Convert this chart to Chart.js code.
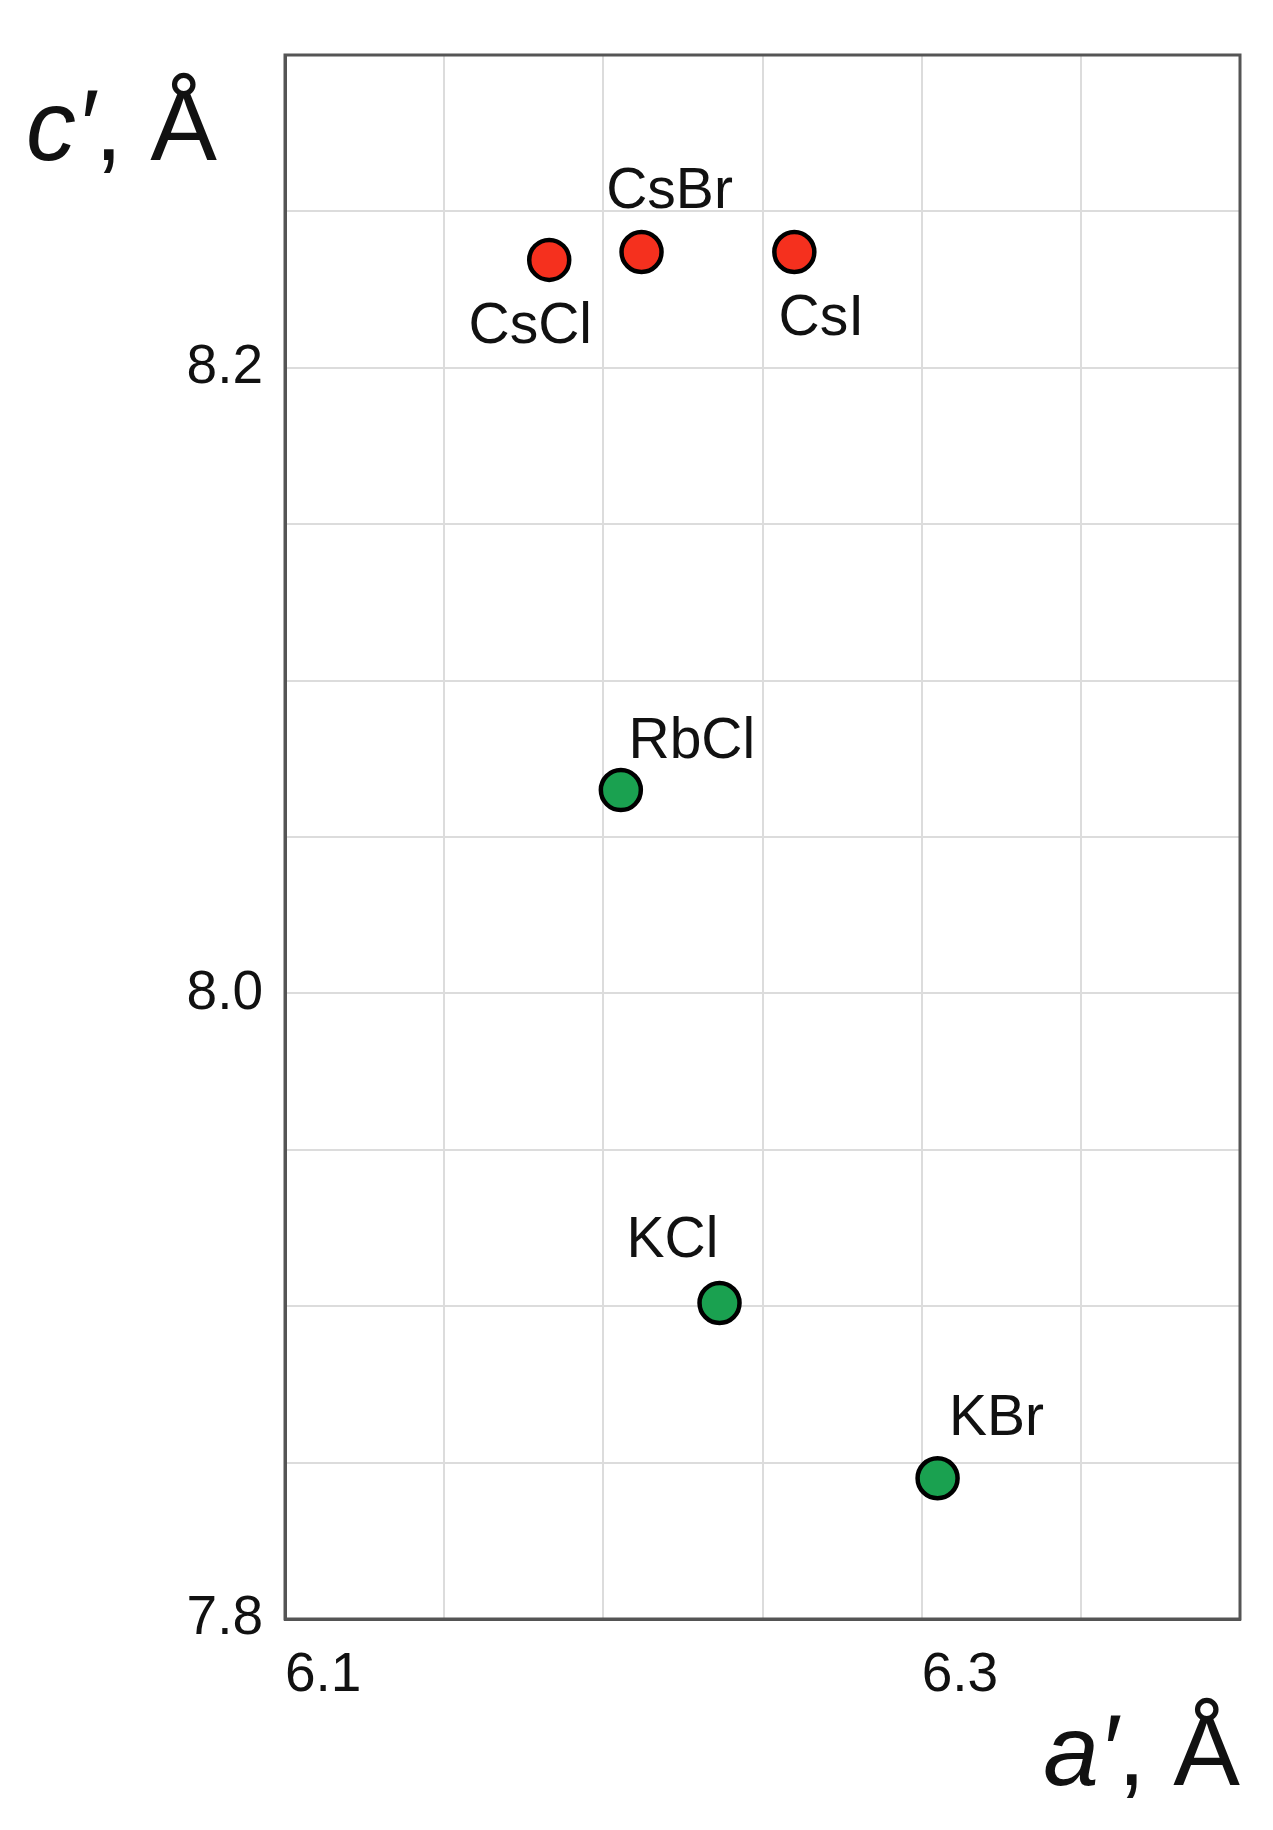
<!DOCTYPE html>
<html><head><meta charset="utf-8">
<script src="https://cdn.jsdelivr.net/npm/chart.js@4/dist/chart.umd.min.js"></script>
<style>html,body{margin:0;padding:0;background:#fff}#w{width:1273px;height:1830px}</style>
</head><body><div id="w"><canvas id="c"></canvas></div>
<script>
const compounds = ["CsCl","CsBr","CsI","RbCl","KCl","KBr"];
const aValues = [6.183,6.212,6.260,6.2055,6.2365,6.305];
const cValues = [8.2345,8.237,8.237,8.065,7.901,7.845];
const groupColors = ["#f5301e","#f5301e","#f5301e","#1aa150","#1aa150","#1aa150"];
const xTickLabels = [6.1,6.3];
const yTickLabels = [7.8,8.0,8.2];
const labelOffsets = [[-19,67],[28,-60],[27,67],[71,-48],[-47,-62],[59,-59]];
const FONT = '"Liberation Sans", Arial, sans-serif';

const annot = {
  id:'annot',
  afterDatasetsDraw(chart){
    const ctx = chart.ctx, meta = chart.getDatasetMeta(0);
    ctx.save();
    ctx.fillStyle='#111'; ctx.font='57px '+FONT; ctx.textAlign='center'; ctx.textBaseline='middle';
    meta.data.forEach((p,i)=>{ ctx.fillText(compounds[i], p.x+labelOffsets[i][0], p.y+labelOffsets[i][1]); });
    ctx.textBaseline='alphabetic';
    ctx.textAlign='left';
    ctx.font='italic 100px '+FONT; ctx.fillText('c′', 26, 160);
    let w = ctx.measureText('c′').width;
    ctx.font='100px '+FONT; ctx.fillText(', Å', 26+w, 160);
    ctx.textAlign='right';
    let w2 = ctx.measureText(', Å').width;
    ctx.fillText(', Å', 1240, 1785);
    ctx.font='italic 100px '+FONT; ctx.fillText('a′', 1240-w2, 1785);
    ctx.restore();
  }
};

new Chart(document.getElementById('c'),{
  type:'scatter',
  data:{datasets:[{data:aValues.map((a,i)=>({x:a,y:cValues[i]})),
    backgroundColor:groupColors, borderColor:'#000', borderWidth:4.5, pointRadius:20, pointHoverRadius:20}]},
  options:{
    responsive:true, maintainAspectRatio:false, animation:false,
    layout:{padding:{top:51,right:33,left:0,bottom:0}},
    plugins:{legend:{display:false},tooltip:{enabled:false}},
    scales:{
      x:{type:'linear',min:6.1,max:6.4,
        afterFit(s){s.height=211;},
        grid:{color:'#dcdcdc',lineWidth:2,drawTicks:false},
        border:{color:'#555',width:3},
        ticks:{stepSize:0.05,align:'start',padding:24,color:'#111',font:{size:55,family:FONT},
          callback(v){const m=xTickLabels.find(t=>Math.abs(t-v)<1e-6);return m!==undefined?m.toFixed(1):'';}}},
      y:{type:'linear',min:7.8,max:8.3,
        afterFit(s){s.width=285;},
        grid:{color:'#dcdcdc',lineWidth:2,drawTicks:false},
        border:{color:'#555',width:3},
        ticks:{stepSize:0.05,padding:22,color:'#111',font:{size:55,family:FONT},
          callback(v){const m=yTickLabels.find(t=>Math.abs(t-v)<1e-6);return m!==undefined?m.toFixed(1):'';}}}
    }
  },
  plugins:[annot,{id:'frame',afterDraw(chart){const a=chart.chartArea,ctx=chart.ctx;ctx.save();ctx.strokeStyle='#555';ctx.lineWidth=3;ctx.strokeRect(a.left,a.top,a.right-a.left,a.bottom-a.top);ctx.restore();}}]
});
</script></body></html>
